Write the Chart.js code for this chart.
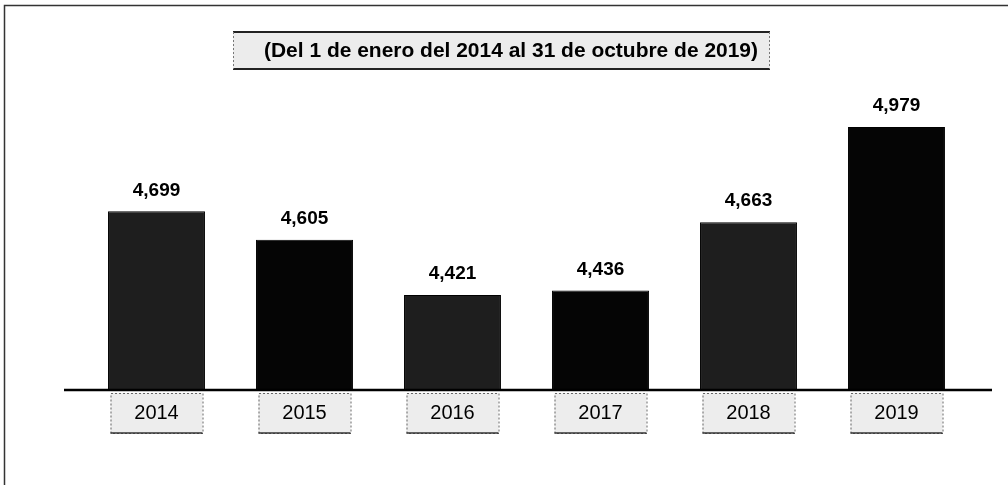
<!DOCTYPE html>
<html>
<head>
<meta charset="utf-8">
<script src="https://cdn.jsdelivr.net/npm/chart.js@4.4.0/dist/chart.umd.min.js"></script>
<style>
  html, body { margin: 0; padding: 0; background: #fff; }
  #wrap { width: 1008px; height: 485px; position: relative; }
</style>
</head>
<body>
<div id="wrap"><canvas id="bar-chart" width="1008" height="485"></canvas></div>
<script>
const years = ['2014', '2015', '2016', '2017', '2018', '2019'];
const totals = [4699, 4605, 4421, 4436, 4663, 4979];
const barColors = ['#1e1e1e', '#050505', '#1e1e1e', '#050505', '#1e1e1e', '#050505'];
const titleText = '(Del 1 de enero del 2014 al 31 de octubre de 2019)';

// frame, title box, axis line, value labels and year boxes
const decorations = {
    id: 'decorations',
    beforeDraw(chart) {
        const ctx = chart.ctx;
        ctx.save();
        ctx.fillStyle = '#fff';
        ctx.fillRect(0, 0, chart.width, chart.height);
        // outer frame (top + left)
        ctx.strokeStyle = '#333';
        ctx.lineWidth = 1.5;
        ctx.beginPath();
        ctx.moveTo(4.5, chart.height);
        ctx.lineTo(4.5, 5.5);
        ctx.lineTo(chart.width, 5.5);
        ctx.stroke();
        // title box
        ctx.fillStyle = '#ececec';
        ctx.fillRect(233, 32, 537, 37);
        ctx.strokeStyle = '#222';
        ctx.lineWidth = 2;
        ctx.beginPath();
        ctx.moveTo(233, 32); ctx.lineTo(770, 32);
        ctx.moveTo(233, 69); ctx.lineTo(770, 69);
        ctx.stroke();
        ctx.lineWidth = 1;
        ctx.setLineDash([2, 2]);
        ctx.strokeStyle = '#777';
        ctx.beginPath();
        ctx.moveTo(233.5, 32); ctx.lineTo(233.5, 69);
        ctx.moveTo(769.5, 32); ctx.lineTo(769.5, 69);
        ctx.stroke();
        ctx.setLineDash([]);
        ctx.fillStyle = '#000';
        ctx.font = 'bold 21px "Liberation Sans", Arial, sans-serif';
        ctx.textAlign = 'center';
        ctx.textBaseline = 'middle';
        ctx.fillText(titleText, 511, 51, 494);
        ctx.restore();
    },
    afterDatasetsDraw(chart) {
        const ctx = chart.ctx;
        const x = chart.scales.x;
        const y = chart.scales.y;
        const meta = chart.getDatasetMeta(0);
        ctx.save();
        // axis line
        ctx.strokeStyle = '#000';
        ctx.lineWidth = 2.5;
        ctx.beginPath();
        ctx.moveTo(64, y.bottom + 1);
        ctx.lineTo(992, y.bottom + 1);
        ctx.stroke();
        ctx.textAlign = 'center';
        ctx.textBaseline = 'middle';
        meta.data.forEach((bar, i) => {
            // value label
            ctx.fillStyle = '#000';
            ctx.font = 'bold 19px "Liberation Sans", Arial, sans-serif';
            ctx.fillText(totals[i].toLocaleString('en-US'), bar.x, bar.y - 21);
            // year box
            const cx = x.getPixelForValue(i);
            const bx = cx - 46, by = y.bottom + 4, bw = 92, bh = 40;
            ctx.fillStyle = '#ededed';
            ctx.fillRect(bx, by, bw, bh);
            ctx.strokeStyle = '#666';
            ctx.lineWidth = 1;
            ctx.setLineDash([2, 2]);
            ctx.strokeRect(bx + 0.5, by + 0.5, bw, bh);
            ctx.setLineDash([]);
            ctx.strokeStyle = '#333';
            ctx.lineWidth = 1.5;
            ctx.beginPath();
            ctx.moveTo(bx, by + bh); ctx.lineTo(bx + bw, by + bh);
            ctx.stroke();
            ctx.fillStyle = '#000';
            ctx.font = '20px "Liberation Sans", Arial, sans-serif';
            ctx.fillText(years[i], cx, by + bh / 2);
        });
        ctx.restore();
    }
};

const ctxBar = document.getElementById('bar-chart').getContext('2d');
const barChart = new Chart(ctxBar, {
    type: 'bar',
    data: {
        labels: years,
        datasets: [{
            data: totals,
            backgroundColor: barColors,
            borderColor: '#000',
            borderWidth: 1,
            barPercentage: 0.655,
            categoryPercentage: 1
        }]
    },
    options: {
        responsive: false,
        animation: false,
        layout: {
            padding: { left: 82.5, right: 37.5, top: 90, bottom: 96 }
        },
        plugins: {
            legend: { display: false },
            tooltip: { enabled: false }
        },
        scales: {
            x: { display: false },
            y: { display: false, min: 4109, max: 5102 }
        }
    },
    plugins: [decorations]
});
</script>
</body>
</html>
